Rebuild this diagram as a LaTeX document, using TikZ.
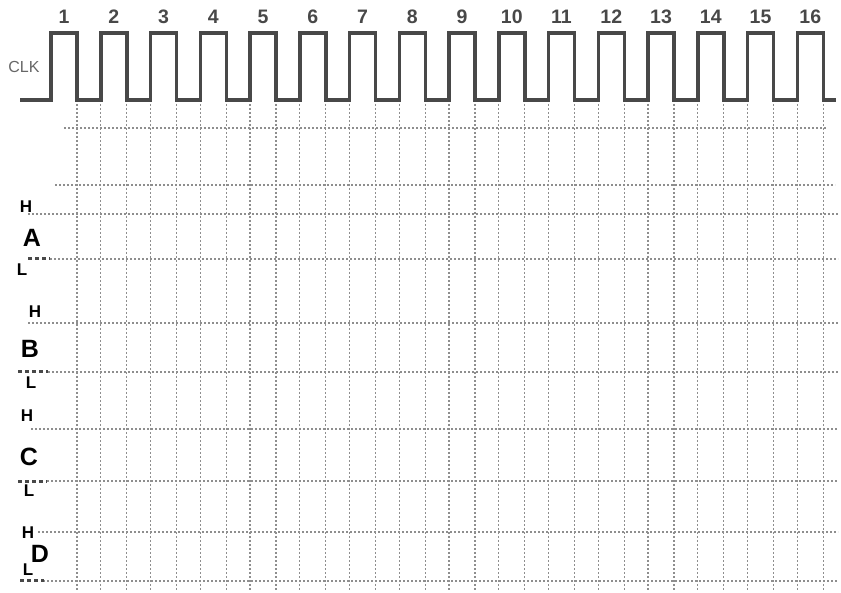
\documentclass[tikz,border=0pt]{standalone}
\usepackage{fontspec}
\setmainfont{Liberation Sans}
\definecolor{wave}{HTML}{484848}
\definecolor{gridgray}{HTML}{8E8E8E}
\tikzset{
  gridline/.style={gridgray, line width=1.2pt, dash pattern=on 2pt off 2pt},
  lowmark/.style={wave, line width=3pt, dash pattern=on 4pt off 3pt},
  clock/.style={wave, line width=3.5pt, line join=miter},
  pulsenum/.style={font=\fontsize{19.5}{19.5}\selectfont\bfseries, text=wave},
  level/.style={font=\fontsize{17}{17}\selectfont\bfseries, inner sep=0pt},
  signal/.style={font=\fontsize{25}{25}\selectfont\bfseries, inner sep=0pt},
}
\begin{document}
\begin{tikzpicture}[x=1pt,y=-1pt]
        \useasboundingbox (0,0) rectangle (841,593);
        % grid
        \foreach \k in {1,...,16}
          \draw[gridline] ({77+49.75*(\k-1)},100) -- ++(0,490);
        \foreach \k in {2,...,16}
          \draw[gridline] ({51+49.75*(\k-1)},100) -- ++(0,490);
        \foreach \y/\a/\b in {128/64/827, 185/55/835, 214/28/838, 259/50/838,
            323/28/838, 372/48/838, 429/31/838, 481/47/838, 532/38/838, 581/43/838}
          \draw[gridline] (\a,\y) -- (\b,\y);
        \draw[lowmark] (28,259) -- (50,259);
        \draw[lowmark] (18,372) -- (48,372);
        \draw[lowmark] (18,481) -- (47,481);
        \draw[lowmark] (20,580) -- (44,580);
        % clock
        \draw[clock] (20,100) \foreach \k in {1,...,16}
          { -- ({51+49.75*(\k-1)},100) -- ++(0,-67) -- ++(26,0) -- ++(0,67) } -- (836,100);
        \foreach \k in {1,...,16}
          \node[pulsenum] (n\k) at ({64+49.75*(\k-1)},17) {\k};
        \node[text=black!60, font=\fontsize{16}{16}\selectfont] (clk) at (24,67) {CLK};
        % signals
        \node[level] (AH) at (26,207) {H};
        \node[signal] (A) at (32,238) {A};
        \node[level] (AL) at (22,270) {L};
        \node[level] (BH) at (35,312) {H};
        \node[signal] (B) at (30,349) {B};
        \node[level] (BL) at (31,383) {L};
        \node[level] (CH) at (27,416) {H};
        \node[signal] (C) at (29,457) {C};
        \node[level] (CL) at (29,491) {L};
        \node[level] (DH) at (28,533) {H};
        \node[signal] (D) at (40,554) {D};
        \node[level] (DL) at (28,570) {L};
      \end{tikzpicture}
\end{document}
